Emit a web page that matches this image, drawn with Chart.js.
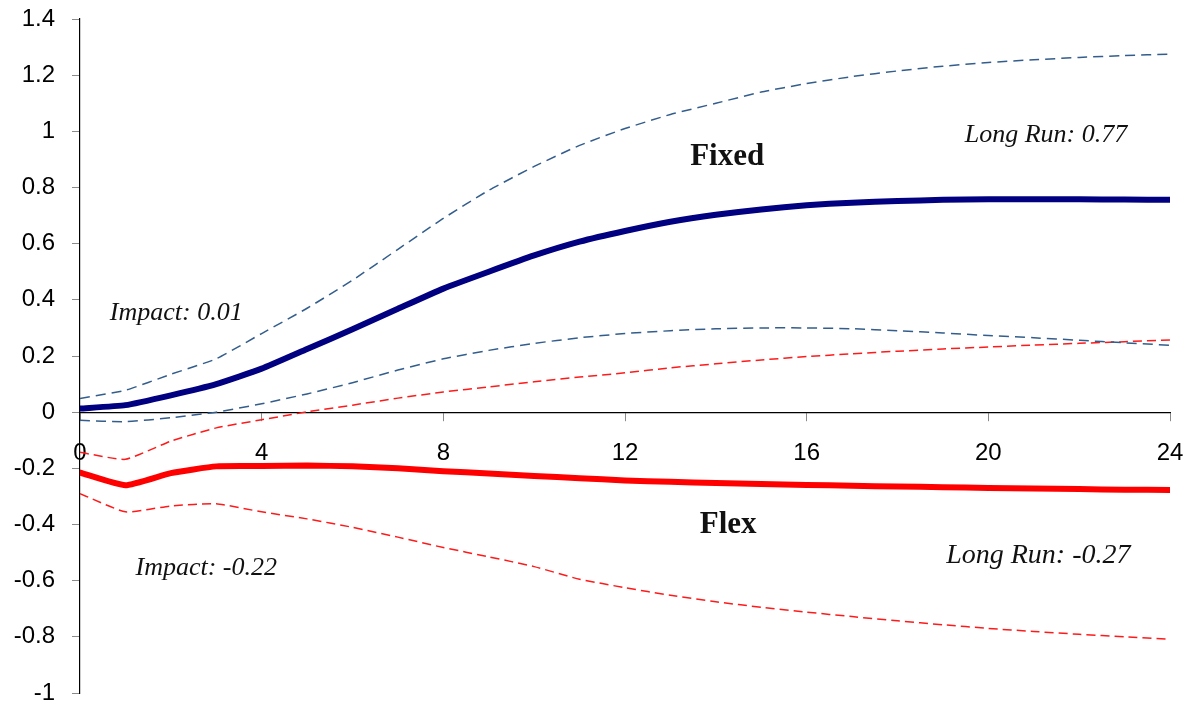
<!DOCTYPE html>
<html>
<head>
<meta charset="utf-8">
<script src="https://cdn.jsdelivr.net/npm/chart.js@4.4.0/dist/chart.umd.min.js"></script>
<style>
  body { margin: 0; background: #fff; }
  #wrap { width: 1191px; height: 708px; }
</style>
</head>
<body>
<div id="wrap"><canvas id="irfChart" width="1191" height="708"></canvas></div>
<script>
//Data (horizon 0..24)
const periods = [0, 1, 2, 3, 4, 5, 6, 7, 8, 9, 10, 11, 12, 13, 14, 15, 16, 17, 18, 19, 20, 21, 22, 23, 24];

const fixedMean  = [0.013, 0.025, 0.06, 0.10, 0.155, 0.225, 0.295, 0.368, 0.44, 0.50, 0.558, 0.607, 0.645, 0.678, 0.703, 0.722, 0.737, 0.746, 0.752, 0.756, 0.758, 0.758, 0.758, 0.757, 0.756];
const fixedUpper = [0.049, 0.078, 0.135, 0.19, 0.28, 0.37, 0.47, 0.58, 0.69, 0.79, 0.875, 0.95, 1.01, 1.06, 1.10, 1.14, 1.17, 1.195, 1.215, 1.232, 1.245, 1.255, 1.263, 1.27, 1.275];
const fixedLower = [-0.029, -0.034, -0.02, 0.0, 0.03, 0.065, 0.105, 0.15, 0.19, 0.22, 0.245, 0.265, 0.28, 0.29, 0.297, 0.30, 0.30, 0.297, 0.29, 0.282, 0.273, 0.265, 0.256, 0.247, 0.238];

const flexMean  = [-0.215, -0.26, -0.217, -0.193, -0.192, -0.19, -0.193, -0.20, -0.21, -0.218, -0.227, -0.235, -0.243, -0.248, -0.252, -0.256, -0.259, -0.262, -0.265, -0.267, -0.27, -0.272, -0.274, -0.276, -0.277];
const flexUpper = [-0.143, -0.168, -0.103, -0.056, -0.027, 0.001, 0.025, 0.05, 0.072, 0.09, 0.108, 0.125, 0.14, 0.158, 0.172, 0.186, 0.198, 0.208, 0.217, 0.225, 0.232, 0.239, 0.245, 0.251, 0.257];
const flexLower = [-0.29, -0.355, -0.334, -0.326, -0.355, -0.38, -0.41, -0.445, -0.482, -0.515, -0.55, -0.595, -0.625, -0.652, -0.675, -0.695, -0.712, -0.728, -0.743, -0.757, -0.77, -0.781, -0.791, -0.80, -0.809];

const xTicks = [0, 4, 8, 12, 16, 20, 24];

//Texts written inside the plot
const noteTexts = ['Fixed', 'Flex', 'Long Run: 0.77', 'Long Run: -0.27', 'Impact: 0.01', 'Impact: -0.22'];

// where / how each note is drawn (data units)
const notePlacement = [
    { x: 14.25, y: 0.909, font: 'bold 31px "Liberation Serif"' },
    { x: 14.27, y: -0.403, font: 'bold 31px "Liberation Serif"' },
    { x: 21.27, y: 0.988, font: 'italic 26px "Liberation Serif"' },
    { x: 21.1, y: -0.51, font: 'italic 28px "Liberation Serif"' },
    { x: 2.12, y: 0.353, font: 'italic 26px "Liberation Serif"' },
    { x: 2.78, y: -0.556, font: 'italic 26px "Liberation Serif"' }
];

function toPoints(values){
    return values.map((v, i) => ({ x: periods[i], y: v }));
}

const notesPlugin = {
    id: 'notes',
    afterDatasetsDraw(chart){
        const ctx = chart.ctx;
        const xs = chart.scales.x;
        const ys = chart.scales.y;
        ctx.save();
        ctx.fillStyle = '#111';
        ctx.textAlign = 'center';
        ctx.textBaseline = 'middle';
        for (let i = 0; i < noteTexts.length; i++){
            const p = notePlacement[i];
            ctx.font = p.font;
            ctx.fillText(noteTexts[i], xs.getPixelForValue(p.x), ys.getPixelForValue(p.y));
        }
        ctx.restore();
    }
};

const blueDash = '#335d8c';
const dashedStyle = { borderWidth: 1.5, pointRadius: 0, tension: 0.15, fill: false };
const solidStyle = { borderWidth: 6, pointRadius: 0, tension: 0.15, fill: false, borderCapStyle: 'round', borderJoinStyle: 'round' };

let container = document.querySelector('#irfChart').getContext('2d');
let irfChart = new Chart(container, {
  type: 'line',
  data: {
    datasets: [
      Object.assign({ label: 'Fixed upper', data: toPoints(fixedUpper), borderColor: blueDash, borderDash: [10, 6] }, dashedStyle),
      Object.assign({ label: 'Fixed lower', data: toPoints(fixedLower), borderColor: blueDash, borderDash: [10, 6] }, dashedStyle),
      Object.assign({ label: 'Flex upper', data: toPoints(flexUpper), borderColor: '#ff1a1a', borderDash: [9, 5] }, dashedStyle),
      Object.assign({ label: 'Flex lower', data: toPoints(flexLower), borderColor: '#ff1a1a', borderDash: [9, 5] }, dashedStyle),
      Object.assign({ label: 'Fixed', data: toPoints(fixedMean), borderColor: '#000080' }, solidStyle),
      Object.assign({ label: 'Flex', data: toPoints(flexMean), borderColor: '#ff0000' }, solidStyle)
    ]
  },
  options: {
    responsive: false,
    animation: false,
    devicePixelRatio: 1,
    layout: {
        padding: { left: 0, right: 21, top: 19, bottom: 15 }
    },
    plugins: {
        legend: { display: false },
        tooltip: { enabled: false }
    },
    scales: {
        x: {
            type: 'linear',
            min: 0,
            max: 24,
            position: { y: 0 },
            // axis sits at y = 0, so it takes no room of its own
            afterFit: function(scale){
                scale.height = 0;
                scale.paddingLeft = 0;
                scale.paddingRight = 0;
            },
            afterBuildTicks: function(scale){ scale.ticks = xTicks.map(v => ({ value: v })); },
            grid: { drawOnChartArea: false, drawTicks: true, tickLength: 8, color: '#8a8a8a' },
            border: { display: true, color: '#000', width: 1.2 },
            ticks: {
                color: '#000',
                padding: 19,
                maxRotation: 0,
                font: { family: '"Liberation Sans", Arial', size: 24 }
            }
        },
        y: {
            min: -1,
            max: 1.4,
            afterFit: function(scale){
                scale.width = 80;
                scale.paddingTop = 0;
                scale.paddingBottom = 0;
            },
            grid: { drawOnChartArea: false, drawTicks: true, tickLength: 8, color: '#8a8a8a' },
            border: { display: true, color: '#000', width: 1.2 },
            ticks: {
                stepSize: 0.2,
                color: '#000',
                padding: 17,
                font: { family: '"Liberation Sans", Arial', size: 24 },
                callback: function(v){ return String(Math.round(v * 10) / 10); }
            }
        }
    }
  },
  plugins: [notesPlugin]
});
</script>
</body>
</html>
